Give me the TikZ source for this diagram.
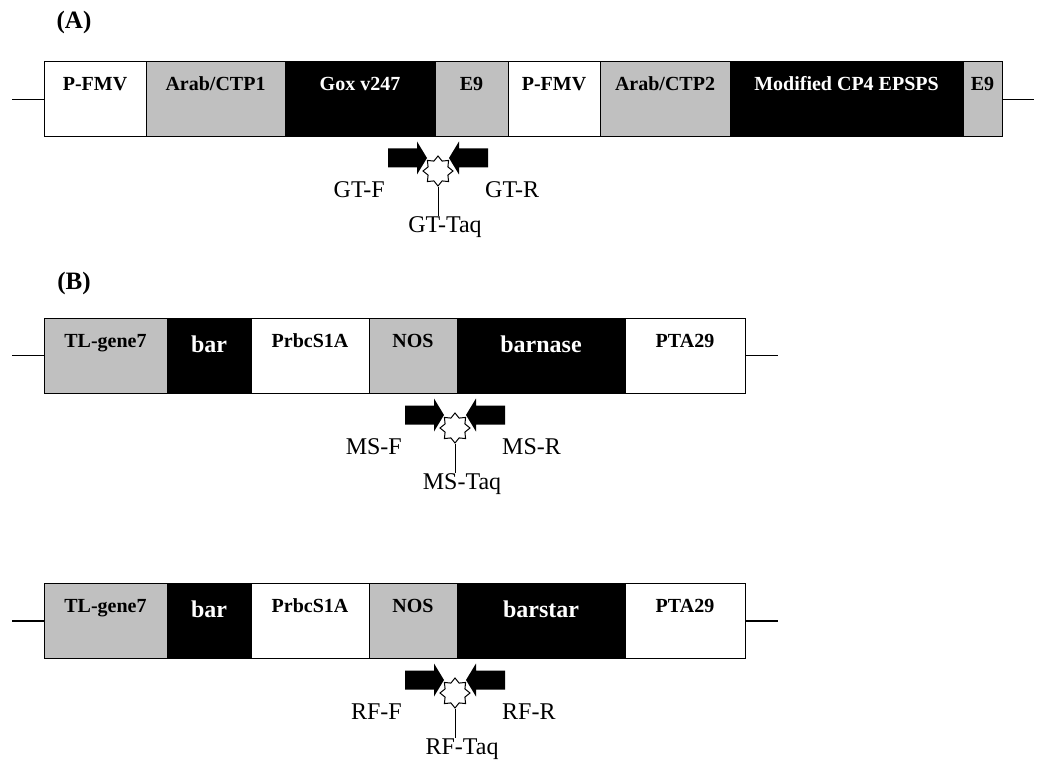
\documentclass[tikz,border=0pt]{standalone}
\usepackage{fontspec}
\setmainfont{Liberation Serif}
\usetikzlibrary{positioning,shapes.geometric}
\definecolor{gbox}{RGB}{192,192,192}

\begin{document}
\begin{tikzpicture}[
  x=1pt, y=-1pt,
  every node/.style={inner sep=0pt},
  seg/.style={draw, line width=1pt, minimum height=75pt,
              text height=14pt, text depth=31pt,
              font=\bfseries\fontsize{20}{20}\selectfont},
  big/.style={font=\bfseries\fontsize{24}{24}\selectfont,
              text height=18pt, text depth=25pt},
  wt/.style={seg, fill=white},
  gy/.style={seg, fill=gbox},
  bk/.style={seg, fill=black, text=white},
  tag/.style={font=\bfseries\fontsize{25}{25}\selectfont},
  primer/.style={font=\fontsize{24}{24}\selectfont},
  probe/.style={star, star points=8, star point ratio=1.4,
                minimum size=30pt, draw, line width=1pt, fill=white},
  bb/.style={line width=1.2pt}
]
\useasboundingbox (0,0) rectangle (1039,770);

% panel labels
\node[tag] (tagA) at (74,22) {(A)};
\node[tag] (tagB) at (74,283) {(B)};

% construct A
\node[wt, minimum width=102pt] (a1) at (95,99.5) {P-FMV};
\node[gy, minimum width=139pt] (a2) at (215.5,99.5) {Arab/CTP1};
\node[bk, minimum width=150pt] (a3) at (360,99.5) {Gox v247};
\node[gy, minimum width=73pt] (a4) at (471.5,99.5) {E9};
\node[wt, minimum width=92pt] (a5) at (554,99.5) {P-FMV};
\node[gy, minimum width=130pt] (a6) at (665,99.5) {Arab/CTP2};
\node[bk, minimum width=233pt] (a7) at (846.5,99.5) {Modified CP4 EPSPS};
\node[gy, minimum width=39pt] (a8) at (982.5,99.5) {E9};
\coordinate (aL) at (12,99.5);
\coordinate (aR) at (1034,99.5);
\draw[bb] (aL) -- (a1.west);
\draw[bb] (a8.east) -- (aR);

% construct B (barnase)
\node[gy, minimum width=123pt] (b1) at (105.5,355.5) {TL-gene7};
\node[bk, big, minimum width=84pt] (b2) at (209,355.5) {bar};
\node[wt, minimum width=118pt] (b3) at (310,355.5) {PrbcS1A};
\node[gy, minimum width=88pt] (b4) at (413,355.5) {NOS};
\node[bk, big, minimum width=168pt] (b5) at (541,355.5) {barnase};
\node[wt, minimum width=120pt] (b6) at (685,355.5) {PTA29};
\coordinate (bL) at (12,355.5);
\coordinate (bR) at (778,355.5);
\draw[bb] (bL) -- (b1.west);
\draw[bb] (b6.east) -- (bR);

% construct C (barstar)
\node[gy, minimum width=123pt] (c1) at (105.5,621) {TL-gene7};
\node[bk, big, minimum width=84pt] (c2) at (209,621) {bar};
\node[wt, minimum width=118pt] (c3) at (310,621) {PrbcS1A};
\node[gy, minimum width=88pt] (c4) at (413,621) {NOS};
\node[bk, big, minimum width=168pt] (c5) at (541,621) {barstar};
\node[wt, minimum width=120pt] (c6) at (685,621) {PTA29};
\coordinate (cL) at (12,621);
\coordinate (cR) at (778,621);
\draw[bb] (cL) -- (c1.west);
\draw[bb] (c6.east) -- (cR);

% primers and probes
\foreach \cx/\cy/\nm in {438/158/GT, 455/415/MS, 455/680/RF}{
  \begin{scope}[shift={(\cx,\cy)}]
    \fill (-11,0) -- (-21,-16.5) -- (-21,-9.5) -- (-50,-9.5)
      -- (-50,9.5) -- (-21,9.5) -- (-21,16.5) -- cycle;
    \fill (11,0) -- (21,-16.5) -- (21,-9.5) -- (50,-9.5)
      -- (50,9.5) -- (21,9.5) -- (21,16.5) -- cycle;
    \node[probe] (p\nm) at (0,13) {};
    \node[primer, anchor=east] (f\nm) at (-53,32) {\nm-F};
    \node[primer, anchor=west] (r\nm) at (47,32) {\nm-R};
    \node[primer] (t\nm) at (7,69) {\nm-Taq};
    \draw[line width=1pt] (p\nm.south) -- (p\nm.south |- t\nm.north);
  \end{scope}
}

\end{tikzpicture}
\end{document}
